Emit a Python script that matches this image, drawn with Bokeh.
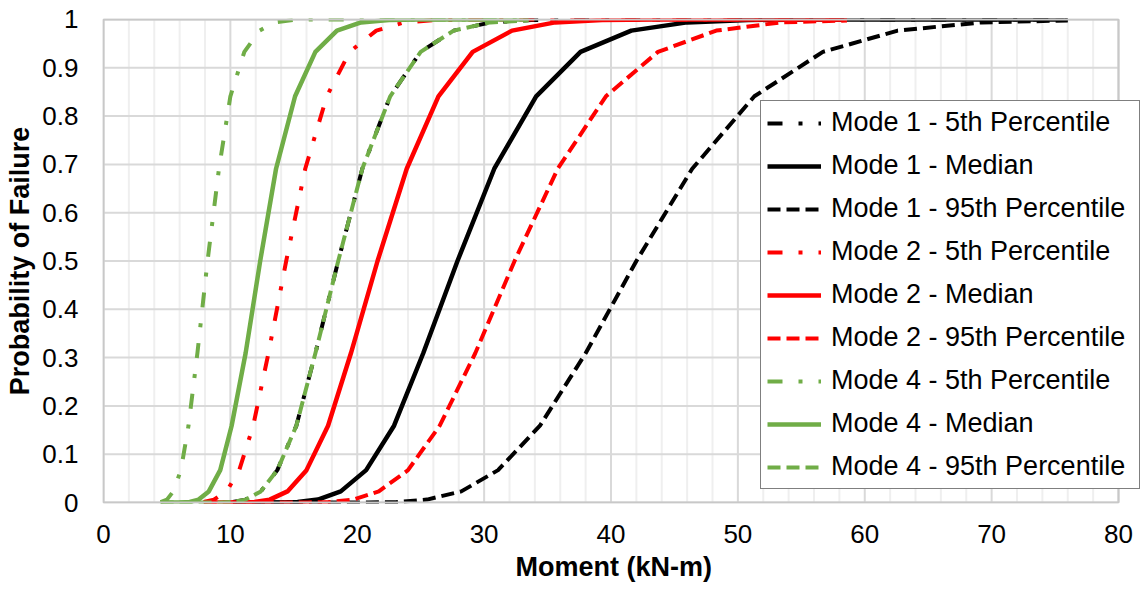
from bokeh.plotting import figure
from bokeh.models import FixedTicker, Legend, LegendItem, Range1d, Title
from bokeh.embed import file_html
from bokeh.resources import INLINE

# ---- axis ticks ----
x_ticks = [0, 10, 20, 30, 40, 50, 60, 70, 80]
x_minor = [2, 4, 6, 8, 12, 14, 16, 18, 22, 24, 26, 28, 32, 34, 36, 38, 42, 44, 46, 48,
           52, 54, 56, 58, 62, 64, 66, 68, 72, 74, 76, 78]
y_ticks = [0, 0.1, 0.2, 0.3, 0.4, 0.5, 0.6, 0.7, 0.8, 0.9, 1]
y_labels = ["0", "0.1", "0.2", "0.3", "0.4", "0.5", "0.6", "0.7", "0.8", "0.9", "1"]

# ---- data ----
m1_p5_x = [10.2, 11.2, 12.4, 13.7, 15.2, 16.7, 18.5, 20.4, 22.6, 25.0, 27.6, 30.5, 33.7, 37.2, 41.1, 45.4, 50.2, 76.0]
m1_p5_y = [0.001, 0.006, 0.023, 0.067, 0.159, 0.309, 0.5, 0.691, 0.841, 0.933, 0.977, 0.994, 0.999, 1, 1, 1, 1, 1]

m1_med_x = [10.2, 12.6, 13.9, 15.3, 16.9, 18.7, 20.7, 22.9, 25.2, 27.9, 30.8, 34.1, 37.6, 41.6, 46.0, 50.8, 56.1, 62.0, 68.5, 75.7]
m1_med_y = [0, 0, 0.0002, 0.001, 0.006, 0.023, 0.067, 0.159, 0.309, 0.5, 0.691, 0.841, 0.933, 0.977, 0.994, 0.999, 1, 1, 1, 1]

m1_p95_x = [10.2, 18.9, 20.9, 23.1, 25.5, 28.2, 31.1, 34.4, 38.0, 42.0, 46.4, 51.3, 56.7, 62.6, 69.2, 76.0]
m1_p95_y = [0, 0, 0.0002, 0.001, 0.006, 0.023, 0.067, 0.159, 0.309, 0.5, 0.691, 0.841, 0.933, 0.977, 0.994, 0.998]

m2_p5_x = [7.9, 8.7, 9.7, 10.7, 11.8, 13.0, 14.4, 15.9, 17.6, 19.4, 21.5, 23.7, 26.2, 29.0, 32.0, 35.4, 39.1, 58.6]
m2_p5_y = [0.001, 0.006, 0.023, 0.067, 0.159, 0.309, 0.5, 0.691, 0.841, 0.933, 0.977, 0.994, 0.999, 1, 1, 1, 1, 1]

m2_med_x = [7.9, 9.7, 10.7, 11.9, 13.1, 14.5, 16.0, 17.7, 19.5, 21.6, 23.9, 26.4, 29.1, 32.2, 35.6, 39.3, 43.4, 48.0, 53.0, 58.6]
m2_med_y = [0, 0, 0.0002, 0.001, 0.006, 0.023, 0.067, 0.159, 0.309, 0.5, 0.691, 0.841, 0.933, 0.977, 0.994, 0.999, 1, 1, 1, 1]

m2_p95_x = [7.9, 14.6, 16.1, 17.8, 19.7, 21.7, 24.0, 26.5, 29.3, 32.4, 35.8, 39.6, 43.7, 48.3, 53.4, 58.6]
m2_p95_y = [0, 0, 0.0002, 0.001, 0.006, 0.023, 0.067, 0.159, 0.309, 0.5, 0.691, 0.841, 0.933, 0.977, 0.994, 0.998]

m4_p5_x = [4.5, 5.0, 5.5, 6.1, 6.7, 7.4, 8.2, 9.1, 10.0, 11.1, 12.3, 13.5, 15.0, 16.5, 18.3, 20.2, 22.3, 33.5]
m4_p5_y = [0.001, 0.006, 0.023, 0.067, 0.159, 0.309, 0.5, 0.691, 0.841, 0.933, 0.977, 0.994, 0.999, 1, 1, 1, 1, 1]

m4_med_x = [4.5, 5.6, 6.1, 6.8, 7.5, 8.3, 9.2, 10.1, 11.2, 12.35, 13.6, 15.1, 16.7, 18.4, 20.3, 22.5, 24.8, 27.4, 30.3, 33.5]
m4_med_y = [0, 0, 0.0002, 0.001, 0.006, 0.023, 0.067, 0.159, 0.309, 0.5, 0.691, 0.841, 0.933, 0.977, 0.994, 0.999, 1, 1, 1, 1]

m4_p95_x = [4.5, 8.3, 9.2, 10.2, 11.2, 12.4, 13.7, 15.2, 16.7, 18.5, 20.4, 22.6, 25.0, 27.6, 30.5, 33.5]
m4_p95_y = [0, 0, 0.0002, 0.001, 0.006, 0.023, 0.067, 0.159, 0.309, 0.5, 0.691, 0.841, 0.933, 0.977, 0.994, 0.998]

series = [
    ("Mode 1 - 5th Percentile", m1_p5_x, m1_p5_y, "#000000", "dashdot"),
    ("Mode 1 - Median", m1_med_x, m1_med_y, "#000000", "solid"),
    ("Mode 1 - 95th Percentile", m1_p95_x, m1_p95_y, "#000000", "dashed"),
    ("Mode 2 - 5th Percentile", m2_p5_x, m2_p5_y, "#FF0000", "dashdot"),
    ("Mode 2 - Median", m2_med_x, m2_med_y, "#FF0000", "solid"),
    ("Mode 2 - 95th Percentile", m2_p95_x, m2_p95_y, "#FF0000", "dashed"),
    ("Mode 4 - 5th Percentile", m4_p5_x, m4_p5_y, "#70AD47", "dashdot"),
    ("Mode 4 - Median", m4_med_x, m4_med_y, "#70AD47", "solid"),
    ("Mode 4 - 95th Percentile", m4_p95_x, m4_p95_y, "#70AD47", "dashed"),
]

dash_map = {"solid": "solid", "dashed": "13 6", "dashdot": "15 16 4 16"}
width_map = {"solid": 4.5, "dashed": 4, "dashdot": 4}

X_MIN, X_MAX = 0, 80
Y_MIN, Y_MAX = 0, 1

# frame is slightly larger than the data box so the legend (which spills
# past the plot area in the reference) is not clipped
p = figure(width=1141, height=589,
           x_range=Range1d(-0.079, 81.734), y_range=Range1d(-0.00207, 1.00207),
           output_backend="svg", toolbar_location=None,
           min_border_left=102, min_border_right=1,
           min_border_top=18, min_border_bottom=85)
p.background_fill_color = "white"
p.border_fill_color = "white"
p.outline_line_color = None
p.xgrid.visible = False
p.ygrid.visible = False

p.xaxis.ticker = FixedTicker(ticks=x_ticks)
p.yaxis.ticker = FixedTicker(ticks=y_ticks)
p.yaxis.major_label_overrides = {t: l for t, l in zip(y_ticks, y_labels)}

for ax in (p.xaxis[0], p.yaxis[0]):
    ax.axis_line_color = None
    ax.major_tick_line_color = None
    ax.minor_tick_line_color = None
    ax.major_tick_in = 0
    ax.major_tick_out = 0
    ax.minor_tick_in = 0
    ax.minor_tick_out = 0
    ax.major_label_text_font = "Liberation Sans"
    ax.major_label_text_font_size = "26px"
    ax.major_label_text_color = "#000000"
    ax.axis_label_text_font = "Liberation Sans"
    ax.axis_label_text_font_size = "27px"
    ax.axis_label_text_font_style = "bold"
    ax.axis_label_text_color = "#000000"

p.yaxis.axis_label = "Probability of Failure"
p.xaxis.major_label_standoff = 21
p.yaxis.major_label_standoff = 24
p.yaxis.axis_label_standoff = 4

# x-axis title centred on the data box (not on the wider frame)
x_title = Title(text="Moment (kN-m)", align="left", offset=413,
                vertical_align="top",
                text_font="Liberation Sans", text_font_size="27px",
                text_font_style="bold", text_color="#000000", standoff=12)
p.add_layout(x_title, "below")

# gridlines (limited to the data box)
p.segment(x0=x_minor, y0=[Y_MIN] * len(x_minor), x1=x_minor, y1=[Y_MAX] * len(x_minor),
          line_color="#EFEFEF", line_width=2)
p.segment(x0=x_ticks, y0=[Y_MIN] * len(x_ticks), x1=x_ticks, y1=[Y_MAX] * len(x_ticks),
          line_color="#D9D9D9", line_width=2)
p.segment(x0=[X_MIN] * len(y_ticks), y0=y_ticks, x1=[X_MAX] * len(y_ticks), y1=y_ticks,
          line_color="#D9D9D9", line_width=2)

items = []
for name, xs, ys, color, style in series:
    r = p.line(xs, ys, line_color=color, line_width=width_map[style],
               line_dash=dash_map[style], line_join="round")
    items.append(LegendItem(label=name, renderers=[r]))

# plot-area border
p.quad(left=[X_MIN], right=[X_MAX], bottom=[Y_MIN], top=[Y_MAX],
       fill_color=None, line_color="#C8C8C8", line_width=2)

legend = Legend(items=items, location=(658, 14))
legend.margin = 0
legend.padding = 6
legend.spacing = 12
legend.label_height = 30
legend.glyph_height = 30
legend.glyph_width = 54
legend.label_standoff = 10
legend.label_width = 302
legend.label_text_font = "Liberation Sans"
legend.label_text_font_size = "27px"
legend.label_text_color = "#000000"
legend.border_line_color = "#000000"
legend.border_line_width = 1
legend.background_fill_color = "white"
legend.background_fill_alpha = 1
p.add_layout(legend, "center")

open("out.html", "w").write(file_html(p, INLINE))
